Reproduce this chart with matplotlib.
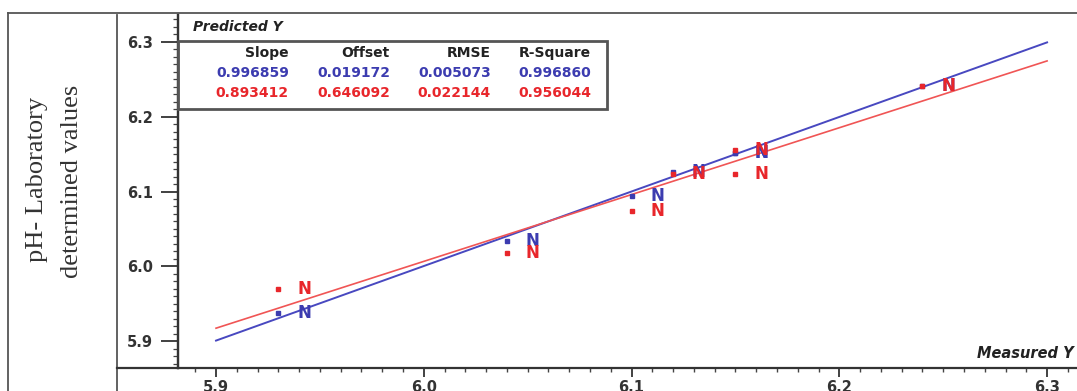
import matplotlib
matplotlib.use("Agg")
import matplotlib.pyplot as plt
from matplotlib.lines import Line2D
from matplotlib.patches import Rectangle
from matplotlib.ticker import MultipleLocator, FormatStrFormatter
import numpy as np

# measured vs predicted pH, calibration (blue) and validation (red)
measured = [5.93, 6.04, 6.10, 6.12, 6.15, 6.15, 6.24]
pred_cal = [5.937, 6.034, 6.094, 6.126, 6.151, 6.151, 6.241]
pred_val = [5.970, 6.018, 6.074, 6.124, 6.156, 6.124, 6.241]
sample_names = ["N", "N", "N", "N", "N", "N", "N"]

stat_names = ["Slope", "Offset", "RMSE", "R-Square"]
stats_cal = [0.996859, 0.019172, 0.005073, 0.996860]
stats_val = [0.893412, 0.646092, 0.022144, 0.956044]

x_ticks = [5.9, 6.0, 6.1, 6.2, 6.3]

BLUE = "#3c3cb0"
RED = "#e8262b"
W, H = 1077, 391


def fx(x):
    return x / W


def fy(y):
    return 1 - y / H


fig = plt.figure(figsize=(W / 100, H / 100), dpi=100)
ax = fig.add_axes([fx(178), fy(368), fx(W - 178), (368 - 15) / H])
ax.set_xlim(5.8817, 6.3144)
ax.set_ylim(5.864, 6.336)

# regression lines from slope/offset
xs = np.array([x_ticks[0], x_ticks[-1]])
ax.plot(xs, stats_cal[0] * xs + stats_cal[1], color="#4848c0", lw=1.4, zorder=2)
ax.plot(xs, stats_val[0] * xs + stats_val[1], color="#f05555", lw=1.2, zorder=2)

for ys, col in [(pred_cal, BLUE), (pred_val, RED)]:
    ax.plot(measured, ys, "s", ms=2.2, color=col, mec=col, zorder=3)
    for x, y, name in zip(measured, ys, sample_names):
        ax.annotate(name, (x, y), xytext=(18.5, 0), textcoords="offset points",
                    ha="center", va="center", color=col, fontsize=12,
                    fontweight="bold", zorder=4)

# axes styling
for s in ["top", "right"]:
    ax.spines[s].set_visible(False)
for s in ["left", "bottom"]:
    ax.spines[s].set_color("#333333")
    ax.spines[s].set_linewidth(1.6)
ax.xaxis.set_major_locator(MultipleLocator(0.1))
ax.xaxis.set_minor_locator(MultipleLocator(0.01))
ax.yaxis.set_major_locator(MultipleLocator(0.1))
ax.yaxis.set_minor_locator(MultipleLocator(0.01))
ax.xaxis.set_major_formatter(FormatStrFormatter("%.1f"))
ax.yaxis.set_major_formatter(FormatStrFormatter("%.1f"))
ax.tick_params(axis="x", which="major", direction="out", length=6.5, width=1.3,
               color="#333333", pad=2)
ax.tick_params(axis="x", which="minor", direction="out", length=3, width=1,
               color="#444444")
ax.tick_params(axis="y", which="major", direction="out", length=12, width=1.3,
               color="#333333", pad=6)
ax.tick_params(axis="y", which="minor", direction="out", length=3.5, width=0.9,
               color="#444444")
for lab in ax.get_xticklabels() + ax.get_yticklabels():
    lab.set_fontweight("bold")
    lab.set_fontsize(10.5)
    lab.set_color("#333333")

# frame lines around the panels
frame_kw = dict(transform=fig.transFigure, color="#555555", lw=1.3)
fig.add_artist(Line2D([fx(8), 1], [fy(13), fy(13)], **frame_kw))
fig.add_artist(Line2D([fx(8), fx(8)], [fy(13), 0], **frame_kw))
fig.add_artist(Line2D([fx(117), fx(117)], [fy(15), 0], **frame_kw))
fig.add_artist(Line2D([fx(117), fx(178)], [fy(368), fy(368)],
                      transform=fig.transFigure, color="#333333", lw=1.6))
fig.add_artist(Line2D([fx(178), fx(178)], [fy(15), fy(368)],
                      transform=fig.transFigure, color="#333333", lw=1.6))

# stats box
fig.add_artist(Rectangle((fx(178), fy(109)), fx(607 - 178), (109 - 41) / H,
                         transform=fig.transFigure, fill=False,
                         ec="#555555", lw=2, zorder=5))
col_right = [289, 390, 491, 591]
for i, name in enumerate(stat_names):
    fig.text(fx(col_right[i]), fy(53), name, ha="right", va="center",
             fontsize=10, fontweight="bold", color="#222222")
    fig.text(fx(col_right[i]), fy(73), f"{stats_cal[i]:.6f}", ha="right",
             va="center", fontsize=10, fontweight="bold", color=BLUE)
    fig.text(fx(col_right[i]), fy(93), f"{stats_val[i]:.6f}", ha="right",
             va="center", fontsize=10, fontweight="bold", color=RED)

fig.text(fx(193), fy(27), "Predicted Y", ha="left", va="center", fontsize=10,
         fontweight="bold", fontstyle="italic", color="#222222")
fig.text(fx(1074), fy(353), "Measured Y", ha="right", va="center", fontsize=10.5,
         fontweight="bold", fontstyle="italic", color="#222222")

# y axis title in the left panel
fig.text(fx(37), fy(179), "pH- Laboratory", rotation=90, ha="center",
         va="center", fontsize=19, family="Liberation Serif", color="#333333")
fig.text(fx(72), fy(181), "determined values", rotation=90, ha="center",
         va="center", fontsize=19, family="Liberation Serif", color="#333333")

fig.savefig("out.png", dpi=100)
